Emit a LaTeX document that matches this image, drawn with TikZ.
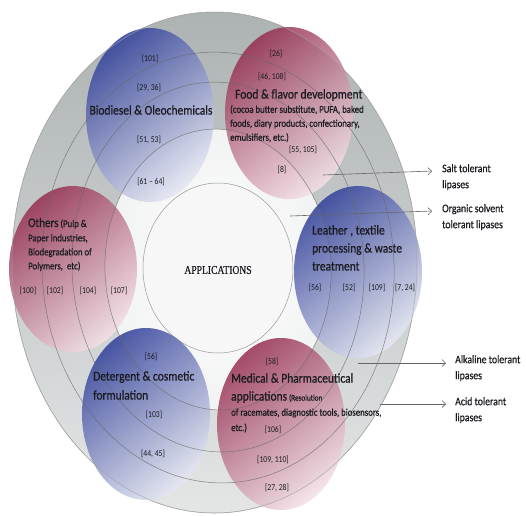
\documentclass[tikz,border=0pt]{standalone}
\usepackage{fontspec}
\setmainfont{Carlito}[FakeStretch=0.85]
\newfontfamily\heavy{Carlito}[FakeStretch=0.85, FakeBold=0.7]
\newfontfamily\appfont{Liberation Serif}[FakeStretch=0.8, FakeBold=0.5]
\usetikzlibrary{arrows.meta}
\definecolor{blueD}{HTML}{37459C}
\definecolor{blueL}{HTML}{E4E6F2}
\definecolor{redD}{HTML}{973052}
\definecolor{redL}{HTML}{F3DFE5}
\definecolor{ringT}{HTML}{ADB2B3}
\definecolor{ringB}{HTML}{E4E6E6}
\definecolor{ringline}{HTML}{6A6A6A}
\definecolor{inside}{HTML}{F1F2F2}
\definecolor{ink}{HTML}{1B1B22}
\begin{document}
\begin{tikzpicture}[x=1pt,y=-1pt,
  ttl/.style={font=\heavy\fontsize{13.5}{18}\selectfont, inner sep=0pt, text=ink, align=left},
  sub/.style={font=\heavy\fontsize{10.3}{14}\selectfont, inner sep=0pt, align=left, text=ink},
  ref/.style={font=\fontsize{9}{11}\selectfont, inner sep=0pt, text=ink},
  side/.style={font=\heavy\fontsize{11.5}{16}\selectfont, inner sep=0pt, align=left, anchor=north west, text=ink},
  ring/.style={draw=ringline, line width=0.5pt, draw opacity=0.8},
  bubB/.style={shading=axis, top color=blueD, bottom color=blueL, shading angle=40, fill opacity=0.88},
  bubR/.style={shading=axis, top color=redD, bottom color=redL, shading angle=40, fill opacity=0.85},
  arr/.style={draw=black!60, line width=0.6pt, -{Straight Barb[length=3.5pt,width=7pt]}}
]
\useasboundingbox (0,0) rectangle (526,515);
\fill[white] (0,0) rectangle (526,515);

% background rings
\shadedraw[top color=ringT, bottom color=ringB, draw=black!35, line width=0.5pt]
  (214.5,262.5) ellipse [x radius=202.5pt, y radius=250.5pt];
\begin{scope}[rotate around={3:(218,269.5)}]
\shade[inner color=white, outer color=inside] (218,269.5) ellipse [x radius=113pt, y radius=140.5pt];
\end{scope}
\filldraw[fill=white!97!black, draw=black!40, line width=0.5pt]
  (218,268) ellipse [x radius=75pt, y radius=85pt];

% application bubbles
\shade[bubB] (150,115) ellipse [x radius=64pt, y radius=87pt];
\shade[bubR] (289,113) ellipse [x radius=64pt, y radius=86pt];
\shade[bubR] (73,269) ellipse [x radius=64pt, y radius=83pt];
\shade[bubB] (358,272) ellipse [x radius=64pt, y radius=86pt];
\shade[bubB] (146,414) ellipse [x radius=64pt, y radius=86pt];
\shade[bubR] (281,424) ellipse [x radius=64pt, y radius=86pt];

% ring lines on top
\draw[ring, draw=black!35] (214.5,262.5) ellipse [x radius=202.5pt, y radius=250.5pt];
\begin{scope}[rotate around={3:(218,267.5)}]
\draw[ring] (218,267.5) ellipse [x radius=176pt, y radius=215.5pt];
\end{scope}
\begin{scope}[rotate around={3:(218,267)}]
\draw[ring] (218,267) ellipse [x radius=146pt, y radius=185pt];
\end{scope}
\begin{scope}[rotate around={3:(218,269.5)}]
\draw[ring] (218,269.5) ellipse [x radius=113pt, y radius=140.5pt];
\end{scope}

% centre
\node[font=\appfont\fontsize{12}{14}\selectfont, text=ink] (app) at (218,270) {APPLICATIONS};

% Biodiesel
\node[ttl] (bioT) at (151,110) {Biodiesel \& Oleochemicals};
\node[ref] (b1) at (150,59) {[101]};
\node[ref] (b2) at (149,88) {[29, 36]};
\node[ref] (b3) at (149,140) {[51, 53]};
\node[ref] (b4) at (151,182) {[61 -- 64]};

% Food
\node[ttl, anchor=west] (foodT) at (235,95) {Food \& flavor development};
\node[sub, anchor=north west] (foodS) at (230,105) {(cocoa butter substitute, PUFA, baked\\foods, diary products, confectionary,\\emulsifiers, etc.)};
\node[ref] (f1) at (276,54) {[26]};
\node[ref] (f2) at (272,77) {[46, 108]};
\node[ref] (f3) at (303,150) {[55, 105]};
\node[ref] (f4) at (282,170) {[8]};

% Others
\node[anchor=base west, inner sep=0pt, text=ink] (othT) at (28,227) {{\heavy\fontsize{13}{16}\selectfont Others} {\heavy\fontsize{10.3}{14}\selectfont (Pulp \&}};
\node[sub, anchor=north west] (othS) at (28,234) {Paper industries,\\Biodegradation of\\Polymers,~ etc)};
\node[ref] (o1) at (28,291) {[100]};
\node[ref] (o2) at (55,291) {[102]};
\node[ref] (o3) at (88,291) {[104]};
\node[ref] (o4) at (119,291) {[107]};

% Leather
\node[ttl, anchor=north west] (leaT) at (312,225) {Leather , textile\\processing \& waste\\treatment};
\node[ref] (l1) at (315,288) {[56]};
\node[ref] (l2) at (349,288) {[52]};
\node[ref] (l3) at (377,288) {[109]};
\node[ref] (l4) at (405,288) {[7, 24]};

% Detergent
\node[ttl, anchor=north west, font=\heavy\fontsize{13.5}{19}\selectfont] (detT) at (93,371) {Detergent \& cosmetic\\formulation};
\node[ref] (d1) at (151,357) {[56]};
\node[ref] (d2) at (154,415) {[103]};
\node[ref] (d3) at (153,454) {[44, 45]};

% Medical
\node[ttl, anchor=west] (medT) at (231,378) {Medical \& Pharmaceutical};
\node[anchor=west, inner sep=0pt, text=ink] (medA) at (231,397) {{\heavy\fontsize{13.5}{16}\selectfont applications} {\heavy\fontsize{8.5}{10}\selectfont (Resolution}};
\node[sub, anchor=west] (medS) at (231,413) {of racemates, diagnostic tools, biosensors,};
\node[sub, anchor=west] (medE) at (231,428) {etc.)};
\node[ref] (m1) at (272,362) {[58]};
\node[ref] (m2) at (273,430) {[106]};
\node[ref] (m3) at (273,460) {[109, 110]};
\node[ref] (m4) at (277,488) {[27, 28]};

% side labels
\node[side] (salt) at (442,164) {Salt tolerant\\lipases};
\node[side] (orgs) at (442,204) {Organic solvent\\tolerant lipases};
\node[side] (alk) at (455,355) {Alkaline tolerant\\lipases};
\node[side] (acid) at (455,397) {Acid tolerant\\lipases};

\coordinate (sa) at (323,175); \coordinate (sb) at (432,171);
\coordinate (oa) at (290,216); \coordinate (ob) at (432,211);
\coordinate (ka) at (358,363); \coordinate (kb) at (446,363);
\coordinate (ca) at (380,404); \coordinate (cb) at (446,404);
\draw[arr] (sa) -- (sb);
\draw[arr] (oa) -- (ob);
\draw[arr] (ka) -- (kb);
\draw[arr] (ca) -- (cb);
\end{tikzpicture}
\end{document}
